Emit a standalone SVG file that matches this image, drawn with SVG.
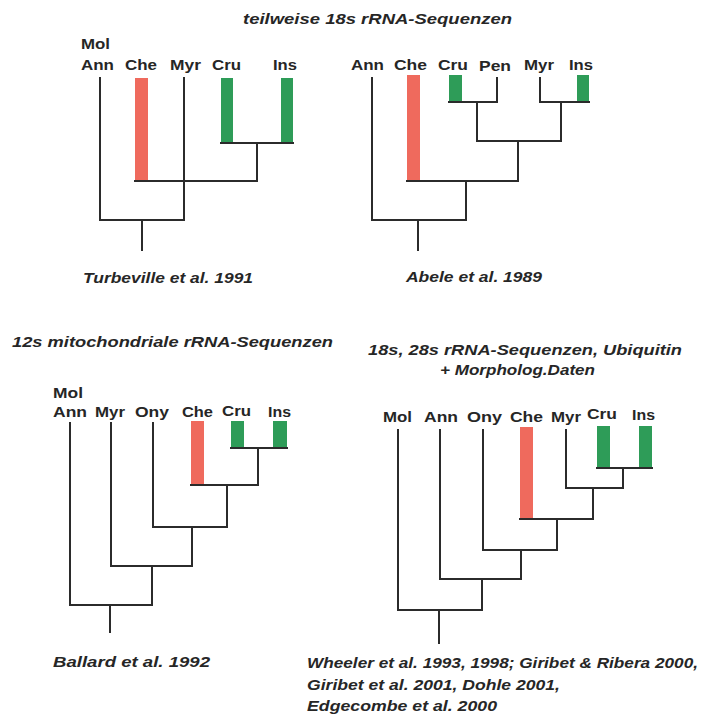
<svg xmlns="http://www.w3.org/2000/svg" width="710" height="714" viewBox="0 0 710 714">
<style>
text{font-family:"Liberation Sans",Arial,sans-serif;font-weight:bold;fill:#262626;}
.lab{font-size:15.5px;}
.ttl{font-size:15.5px;font-style:italic;}
.ln{stroke:#2b2b2b;stroke-width:2;fill:none;stroke-linecap:square;}
.red{fill:#ef6a5d;}
.grn{fill:#2e9c58;}
</style>
<rect width="710" height="714" fill="#ffffff"/>

<!-- Panel 1 -->
<g id="title1"><text class="ttl" x="243" y="24" textLength="269" lengthAdjust="spacingAndGlyphs">teilweise 18s rRNA-Sequenzen</text></g>
<g id="p1-molann"><text class="lab" x="81" y="49" textLength="29" lengthAdjust="spacingAndGlyphs">Mol</text><text class="lab" x="81" y="70" textLength="33" lengthAdjust="spacingAndGlyphs">Ann</text></g>
<g id="p1-che"><text class="lab" x="125" y="70" textLength="32" lengthAdjust="spacingAndGlyphs">Che</text><rect class="red" x="135" y="78" width="13" height="103"/></g>
<g id="p1-myr"><text class="lab" x="170" y="70" textLength="31" lengthAdjust="spacingAndGlyphs">Myr</text></g>
<g id="p1-cru"><text class="lab" x="212" y="70" textLength="29" lengthAdjust="spacingAndGlyphs">Cru</text><rect class="grn" x="221" y="78" width="12" height="65"/></g>
<g id="p1-ins"><text class="lab" x="273" y="70" textLength="24" lengthAdjust="spacingAndGlyphs">Ins</text><rect class="grn" x="281" y="78" width="12" height="65"/></g>
<g id="cite1"><text class="ttl" x="83" y="283" textLength="170" lengthAdjust="spacingAndGlyphs">Turbeville et al. 1991</text></g>

<!-- Panel 2 -->
<g id="p2-ann"><text class="lab" x="351" y="70" textLength="33" lengthAdjust="spacingAndGlyphs">Ann</text></g>
<g id="p2-che"><text class="lab" x="394" y="70" textLength="33" lengthAdjust="spacingAndGlyphs">Che</text><rect class="red" x="407" y="75" width="13" height="106"/></g>
<g id="p2-cru"><text class="lab" x="438" y="70" textLength="30" lengthAdjust="spacingAndGlyphs">Cru</text><rect class="grn" x="449" y="75" width="13" height="27"/></g>
<g id="p2-pen"><text class="lab" x="479" y="71" textLength="32" lengthAdjust="spacingAndGlyphs">Pen</text></g>
<g id="p2-myr"><text class="lab" x="524" y="70" textLength="30" lengthAdjust="spacingAndGlyphs">Myr</text></g>
<g id="p2-ins"><text class="lab" x="569" y="70" textLength="24" lengthAdjust="spacingAndGlyphs">Ins</text><rect class="grn" x="577" y="75" width="12" height="27"/></g>
<g id="cite2"><text class="ttl" x="406" y="282" textLength="136" lengthAdjust="spacingAndGlyphs">Abele et al. 1989</text></g>

<!-- Panel 3 -->
<g id="title3"><text class="ttl" x="12" y="347" textLength="321" lengthAdjust="spacingAndGlyphs">12s mitochondriale rRNA-Sequenzen</text></g>
<g id="p3-molann"><text class="lab" x="53" y="398" textLength="30" lengthAdjust="spacingAndGlyphs">Mol</text><text class="lab" x="53" y="417" textLength="34" lengthAdjust="spacingAndGlyphs">Ann</text></g>
<g id="p3-myr"><text class="lab" x="95" y="417" textLength="30" lengthAdjust="spacingAndGlyphs">Myr</text></g>
<g id="p3-ony"><text class="lab" x="135" y="417" textLength="34" lengthAdjust="spacingAndGlyphs">Ony</text></g>
<g id="p3-che"><text class="lab" x="182" y="417" textLength="31" lengthAdjust="spacingAndGlyphs">Che</text><rect class="red" x="191" y="421" width="13" height="64"/></g>
<g id="p3-cru"><text class="lab" x="222" y="416" textLength="29" lengthAdjust="spacingAndGlyphs">Cru</text><rect class="grn" x="231" y="421" width="13" height="27"/></g>
<g id="p3-ins"><text class="lab" x="268" y="417" textLength="23" lengthAdjust="spacingAndGlyphs">Ins</text><rect class="grn" x="273" y="421" width="14" height="27"/></g>
<g id="cite3"><text class="ttl" x="53" y="667" textLength="157" lengthAdjust="spacingAndGlyphs">Ballard et al. 1992</text></g>

<!-- Panel 4 -->
<g id="title4"><text class="ttl" x="368" y="355" textLength="314" lengthAdjust="spacingAndGlyphs">18s, 28s rRNA-Sequenzen, Ubiquitin</text><text class="ttl" x="440" y="375" textLength="155" lengthAdjust="spacingAndGlyphs">+ Morpholog.Daten</text></g>
<g id="p4-mol"><text class="lab" x="383" y="422" textLength="29" lengthAdjust="spacingAndGlyphs">Mol</text></g>
<g id="p4-ann"><text class="lab" x="424" y="422" textLength="34" lengthAdjust="spacingAndGlyphs">Ann</text></g>
<g id="p4-ony"><text class="lab" x="467" y="422" textLength="35" lengthAdjust="spacingAndGlyphs">Ony</text></g>
<g id="p4-che"><text class="lab" x="510" y="422" textLength="33" lengthAdjust="spacingAndGlyphs">Che</text><rect class="red" x="520" y="427" width="13" height="92"/></g>
<g id="p4-myr"><text class="lab" x="551" y="422" textLength="30" lengthAdjust="spacingAndGlyphs">Myr</text></g>
<g id="p4-cru"><text class="lab" x="587" y="419" textLength="30" lengthAdjust="spacingAndGlyphs">Cru</text><rect class="grn" x="597" y="426" width="13" height="42"/></g>
<g id="p4-ins"><text class="lab" x="632" y="420" textLength="23" lengthAdjust="spacingAndGlyphs">Ins</text><rect class="grn" x="639" y="426" width="13" height="42"/></g>
<g id="cite4">
<text class="ttl" x="307" y="668" textLength="391" lengthAdjust="spacingAndGlyphs">Wheeler et al. 1993, 1998; Giribet &amp; Ribera 2000,</text>
<text class="ttl" x="307" y="690" textLength="253" lengthAdjust="spacingAndGlyphs">Giribet et al. 2001, Dohle 2001,</text>
<text class="ttl" x="307" y="711" textLength="190" lengthAdjust="spacingAndGlyphs">Edgecombe et al. 2000</text>
</g>

<g id="connectors" class="ln">
<!-- Panel 1 -->
<path d="M100 78V220H184V78"/>
<path d="M142 220V250"/>
<path d="M221 143H293"/>
<path d="M257 143V181H135"/>
<!-- Panel 2 -->
<path d="M372 78V220H466V181"/>
<path d="M418 220V250"/>
<path d="M407 181H518V141"/>
<path d="M477 141H561"/>
<path d="M477 141V102"/>
<path d="M561 141V102"/>
<path d="M449 102H497V78"/>
<path d="M540 78V102H589"/>
<!-- Panel 3 -->
<path d="M70 423V605H152V566"/>
<path d="M110 605V632"/>
<path d="M111 423V566H192V527"/>
<path d="M153 423V527H227V485"/>
<path d="M191 485H258V448"/>
<path d="M231 448H287"/>
<!-- Panel 4 -->
<path d="M398 430V610H482V579"/>
<path d="M439 610V643"/>
<path d="M440 430V579H521V550"/>
<path d="M483 430V550H557V519"/>
<path d="M520 519H593V488"/>
<path d="M566 430V488H623V468"/>
<path d="M597 468H652"/>
</g>
</svg>
